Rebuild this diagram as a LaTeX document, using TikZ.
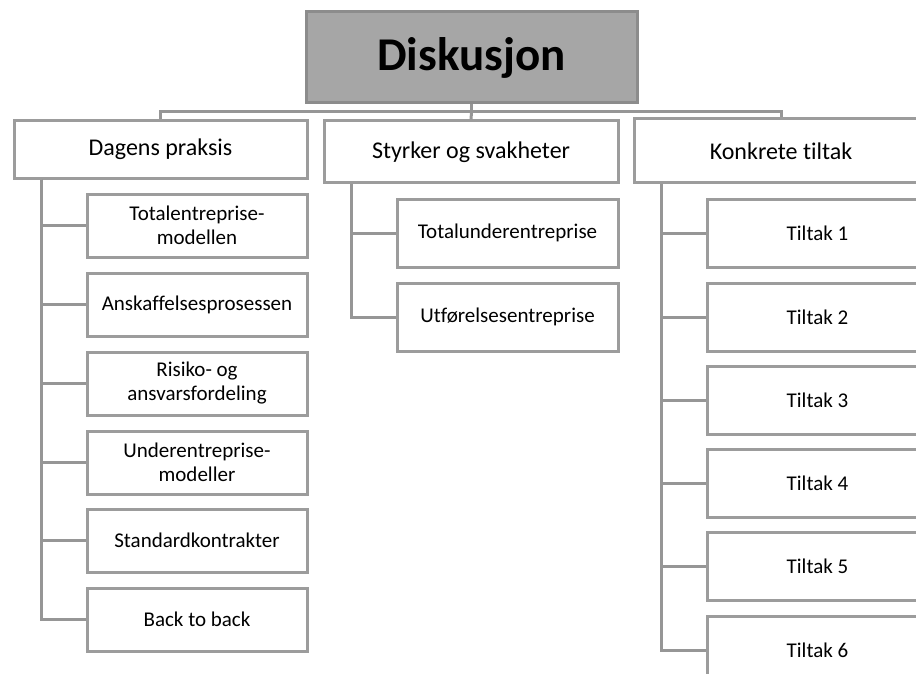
\documentclass[tikz,border=0pt]{standalone}
\usepackage{fontspec}
\setmainfont{Carlito}[Ligatures={NoCommon}]
\begin{document}
\begin{tikzpicture}[x=1pt,y=-1pt,
  box/.style={draw=boxgray,line width=3pt,fill=white,inner sep=0pt,
    align=center,font=\fontsize{21}{24}\selectfont},
  topbox/.style={box,font=\fontsize{24}{27}\selectfont},
  titlebox/.style={draw=titleedge,fill=titlefill,line width=3pt,inner sep=0pt,
    font=\fontsize{47}{52}\selectfont\bfseries},
  link/.style={draw=linegray,line width=3pt}]
\definecolor{boxgray}{HTML}{9C9C9C}
\definecolor{linegray}{HTML}{969696}
\definecolor{titlefill}{HTML}{A6A6A6}
\definecolor{titleedge}{HTML}{8C8C8C}
\useasboundingbox (0,0) rectangle (916,674);
\clip (0,0) rectangle (916,674);

% root
\node[titlebox,minimum width=331pt,minimum height=91pt] (root) at (471.5,57.5) {Diskusjon};

% main branches
\node[topbox,minimum width=293pt,minimum height=58pt] (dag) at (160.5,149.5) {Dagens praksis};
\node[topbox,minimum width=294pt,minimum height=62pt] (sty) at (471,152) {Styrker og svakheter};
\node[topbox,minimum width=294pt,minimum height=64pt] (kon) at (781,151) {Konkrete tiltak};

% bus from root to branches
\coordinate (bus) at (471.5,112);
\draw[link] (root.south) -- (bus);
\draw[link] (dag.north) |- (bus) -| (kon.north);
\draw[link] (bus) -- (sty.north);

% Dagens praksis
\foreach \n/\y/\t in {d1/225.5/{Totalentreprise-\\modellen},
                      d2/304.5/{Anskaffelsesprosessen},
                      d3/383.5/{Risiko- og\\ansvarsfordeling},
                      d4/462.5/{Underentreprise-\\modeller},
                      d5/540.5/{Standardkontrakter},
                      d6/619.5/{Back to back}}
  \node[box,minimum width=220pt,minimum height=63pt] (\n) at (197,\y) {\t};
\foreach \n in {d1,d2,d3,d4,d5,d6}
  \draw[link] ([xshift=29pt]dag.south west) |- (\n.west);

% Styrker og svakheter
\node[box,minimum width=221pt,minimum height=68pt] (s1) at (507.5,233) {Totalunderentreprise};
\node[box,minimum width=221pt,minimum height=68pt] (s2) at (507.5,317) {Utførelsesentreprise};
\foreach \n in {s1,s2}
  \draw[link] ([xshift=29pt]sty.south west) |- (\n.west);

% Konkrete tiltak
\foreach \i/\y in {1/233,2/317,3/400,4/483,5/566,6/650}
  \node[box,minimum width=221pt,minimum height=68pt] (k\i) at (817.5,\y) {Tiltak \i};
\foreach \i in {1,...,6}
  \draw[link] ([xshift=29pt]kon.south west) |- (k\i.west);
\end{tikzpicture}
\end{document}
